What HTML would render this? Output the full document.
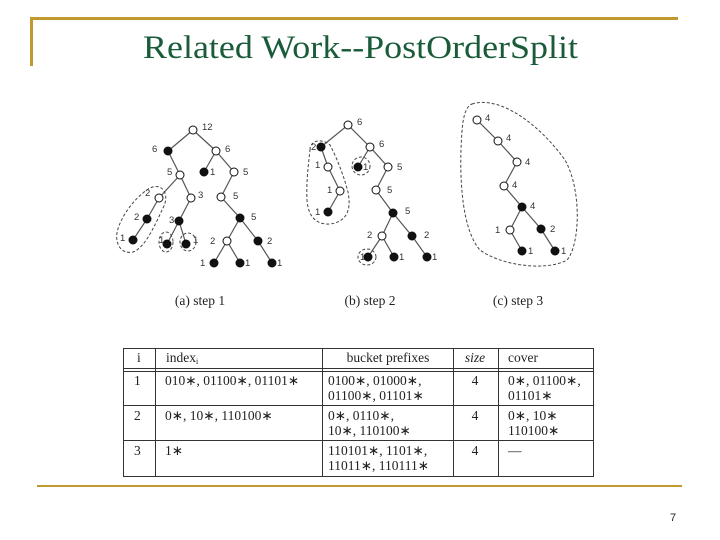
<!DOCTYPE html>
<html><head><meta charset="utf-8"><style>
body{margin:0;width:720px;height:540px;background:#fff;overflow:hidden}
svg{display:block}
.l{font-family:"Liberation Sans",sans-serif;font-size:9.5px;fill:#333}
.s{font-family:"Liberation Serif",serif;font-size:13.5px;fill:#222}
</style></head><body>
<svg width="720" height="540" viewBox="0 0 720 540">
<rect x="30" y="17" width="648" height="3" fill="#c09a2e"/>
<rect x="30" y="17" width="3" height="49" fill="#c09a2e"/>
<rect x="37" y="485" width="645" height="2" fill="#c09a2e"/>
<text x="143" y="58" textLength="435" lengthAdjust="spacingAndGlyphs" font-family="Liberation Serif,serif" font-size="33" fill="#1a5c3a">Related Work--PostOrderSplit</text>
<text x="673" y="521" text-anchor="middle" font-family="Liberation Sans,sans-serif" font-size="11" fill="#222">7</text>

<g stroke="#555" stroke-width="1.2" fill="none">
<path d="M193,130L168,151M193,130L216,151M168,151L180,175M216,151L204,172M216,151L234,172M180,175L159,198M180,175L191,198M159,198L147,219M147,219L133,240M191,198L179,221M179,221L167,244M179,221L186,244M234,172L221,197M221,197L240,218M240,218L227,241M240,218L258,241M227,241L214,263M227,241L240,263M258,241L272,263"/>
<path d="M348,125L321,147M348,125L370,147M321,147L328,167M328,167L340,191M340,191L328,212M370,147L358,167M370,147L388,167M388,167L376,190M376,190L393,213M393,213L382,236M393,213L412,236M382,236L368,257M382,236L394,257M412,236L427,257"/>
<path d="M477,120L498,141L517,162L504,186L522,207L510,230L522,251M522,207L541,229L555,251"/>
</g>
<g stroke="#444" stroke-width="1" fill="none" stroke-dasharray="3,2">
<path d="M117,240C114,228 130,200 150,188C163,182 170,195 163,208C155,225 145,248 133,252C124,254 118,248 117,240Z"/>
<ellipse cx="166" cy="242" rx="7" ry="10"/>
<ellipse cx="188" cy="242" rx="8" ry="9"/>
<path d="M310,150C310,140 322,138 330,145C338,160 345,180 348,192C352,212 345,222 330,224C315,225 308,215 307,200C306,180 309,160 310,150Z"/>
<ellipse cx="361" cy="166" rx="9" ry="9"/>
<ellipse cx="367" cy="257" rx="9" ry="8"/>
<path d="M472,104C500,95 540,125 565,160C582,190 580,245 567,260C545,272 500,265 480,250C462,230 460,180 461,150C462,125 463,108 472,104Z"/>
</g>
<g stroke="#111" stroke-width="1">
<g fill="#fff">
<circle cx="193" cy="130" r="4"/><circle cx="216" cy="151" r="4"/><circle cx="234" cy="172" r="4"/><circle cx="180" cy="175" r="4"/><circle cx="159" cy="198" r="4"/><circle cx="191" cy="198" r="4"/><circle cx="221" cy="197" r="4"/><circle cx="227" cy="241" r="4"/>
<circle cx="348" cy="125" r="4"/><circle cx="370" cy="147" r="4"/><circle cx="328" cy="167" r="4"/><circle cx="388" cy="167" r="4"/><circle cx="340" cy="191" r="4"/><circle cx="376" cy="190" r="4"/><circle cx="382" cy="236" r="4"/>
<circle cx="477" cy="120" r="4"/><circle cx="498" cy="141" r="4"/><circle cx="517" cy="162" r="4"/><circle cx="504" cy="186" r="4"/><circle cx="510" cy="230" r="4"/>
</g>
<g fill="#111">
<circle cx="168" cy="151" r="4"/><circle cx="204" cy="172" r="4"/><circle cx="147" cy="219" r="4"/><circle cx="179" cy="221" r="4"/><circle cx="240" cy="218" r="4"/><circle cx="133" cy="240" r="4"/><circle cx="167" cy="244" r="4"/><circle cx="186" cy="244" r="4"/><circle cx="258" cy="241" r="4"/><circle cx="214" cy="263" r="4"/><circle cx="240" cy="263" r="4"/><circle cx="272" cy="263" r="4"/>
<circle cx="321" cy="147" r="4"/><circle cx="358" cy="167" r="4"/><circle cx="328" cy="212" r="4"/><circle cx="393" cy="213" r="4"/><circle cx="412" cy="236" r="4"/><circle cx="368" cy="257" r="4"/><circle cx="394" cy="257" r="4"/><circle cx="427" cy="257" r="4"/>
<circle cx="522" cy="207" r="4"/><circle cx="541" cy="229" r="4"/><circle cx="522" cy="251" r="4"/><circle cx="555" cy="251" r="4"/>
</g>
</g>
<g class="l">
<text x="202" y="130">12</text><text x="152" y="152">6</text><text x="225" y="152">6</text><text x="210" y="175">1</text><text x="243" y="175">5</text><text x="167" y="175">5</text><text x="145" y="196">2</text><text x="198" y="198">3</text><text x="233" y="199">5</text><text x="134" y="220">2</text><text x="169" y="223">3</text><text x="251" y="220">5</text><text x="120" y="241">1</text><text x="159" y="243">1</text><text x="193" y="243">1</text><text x="210" y="244">2</text><text x="267" y="244">2</text><text x="200" y="266">1</text><text x="245" y="266">1</text><text x="277" y="266">1</text>
<text x="357" y="125">6</text><text x="311" y="150">2</text><text x="379" y="147">6</text><text x="315" y="168">1</text><text x="363" y="170">1</text><text x="397" y="170">5</text><text x="327" y="193">1</text><text x="387" y="193">5</text><text x="315" y="215">1</text><text x="405" y="214">5</text><text x="367" y="238">2</text><text x="424" y="238">2</text><text x="360" y="260">1</text><text x="399" y="260">1</text><text x="432" y="260">1</text>
<text x="485" y="121">4</text><text x="506" y="141">4</text><text x="525" y="165">4</text><text x="512" y="188">4</text><text x="530" y="209">4</text><text x="495" y="233">1</text><text x="550" y="232">2</text><text x="528" y="254">1</text><text x="561" y="254">1</text>
</g>
<g class="s">
<text x="200" y="305" text-anchor="middle">(a) step 1</text>
<text x="370" y="305" text-anchor="middle">(b) step 2</text>
<text x="518" y="305" text-anchor="middle">(c) step 3</text>
</g>
<g stroke="#333" stroke-width="1" fill="none">
<rect x="123.5" y="348.5" width="470" height="128"/>
<line x1="123" y1="368.5" x2="594" y2="368.5"/>
<line x1="123" y1="371.5" x2="594" y2="371.5"/>
<line x1="123" y1="405.5" x2="594" y2="405.5"/>
<line x1="123" y1="440.5" x2="594" y2="440.5"/>
<line x1="155.5" y1="348" x2="155.5" y2="477"/>
<line x1="322.5" y1="348" x2="322.5" y2="477"/>
<line x1="453.5" y1="348" x2="453.5" y2="477"/>
<line x1="498.5" y1="348" x2="498.5" y2="477"/>
</g>
<g class="s">
<text x="137" y="362">i</text><text x="166" y="362">index<tspan font-size="8" dy="2">i</tspan></text><text x="388" y="362" text-anchor="middle">bucket prefixes</text><text x="475" y="362" text-anchor="middle" font-style="italic">size</text><text x="508" y="362">cover</text>
<text x="134" y="385">1</text><text x="165" y="385">010∗, 01100∗, 01101∗</text><text x="328" y="385">0100∗, 01000∗,</text><text x="328" y="400">01100∗, 01101∗</text><text x="475" y="385" text-anchor="middle">4</text><text x="508" y="385">0∗, 01100∗,</text><text x="508" y="400">01101∗</text>
<text x="134" y="420">2</text><text x="165" y="420">0∗, 10∗, 110100∗</text><text x="328" y="420">0∗, 0110∗,</text><text x="328" y="435">10∗, 110100∗</text><text x="475" y="420" text-anchor="middle">4</text><text x="508" y="420">0∗, 10∗</text><text x="508" y="435">110100∗</text>
<text x="134" y="455">3</text><text x="165" y="455">1∗</text><text x="328" y="455">110101∗, 1101∗,</text><text x="328" y="470">11011∗, 110111∗</text><text x="475" y="455" text-anchor="middle">4</text><text x="508" y="455">—</text>
</g>
</svg>
</body></html>
